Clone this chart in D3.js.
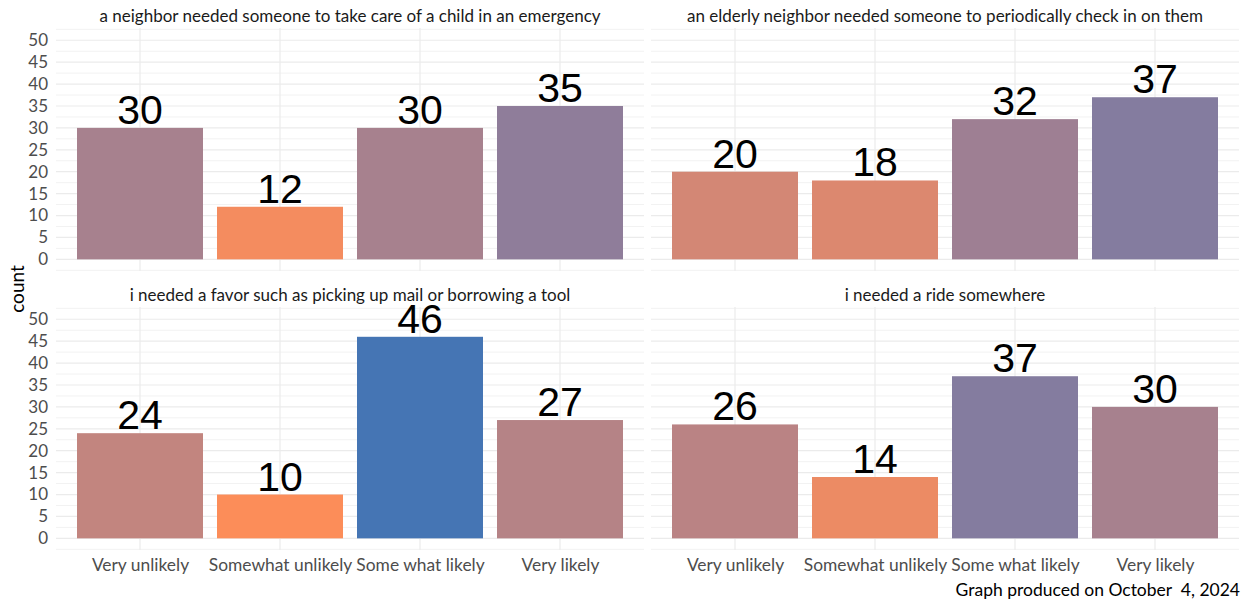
<!DOCTYPE html>
<html>
<head>
<meta charset="utf-8">
<script src="https://cdn.jsdelivr.net/npm/d3@7"></script>
<style>
  html, body { margin: 0; padding: 0; background: #fff; }
  svg { display: block; }
</style>
</head>
<body>
<svg id="chart" width="1244" height="603"></svg>
<script>
const categories = ["Very unlikely", "Somewhat unlikely", "Some what likely", "Very likely"];
const panelTitles = [
  "a neighbor needed someone to take care of a child in an emergency",
  "an elderly neighbor needed someone to periodically check in on them",
  "i needed a favor such as picking up mail or borrowing a tool",
  "i needed a ride somewhere"
];
const childCare = [30, 12, 30, 35];
const elderlyCheck = [20, 18, 32, 37];
const favor = [24, 10, 46, 27];
const ride = [26, 14, 37, 30];
const seriesValues = [childCare, elderlyCheck, favor, ride];
const yTicks = [0, 5, 10, 15, 20, 25, 30, 35, 40, 45, 50];
const yMinor = [-2.5, 2.5, 7.5, 12.5, 17.5, 22.5, 27.5, 32.5, 37.5, 42.5, 47.5, 52.5];
const caption = "Graph produced on October\u00a0\u00a04, 2024";
const yLabel = "count";

const svg = d3.select("#chart");
const FONT = "Lato, 'Open Sans', sans-serif";

const panelW = 588, panelH = 243;
const panelX = [56, 651];
const panelY = [28, 307];

const allVals = seriesValues.flat();
const color = d3.scaleLinear()
  .domain([d3.min(allVals), d3.max(allVals)])
  .range(["#fc8d59", "#4575b4"])
  .interpolate(d3.interpolateLab);

const step = panelW / 4.2;
const xc = c => step * (0.6 + categories.indexOf(c));
const y = d3.scaleLinear().domain([-2.66, 52.8]).range([panelH, 0]);

seriesValues.forEach((vals, i) => {
  const col = i % 2, row = Math.floor(i / 2);
  const g = svg.append("g").attr("transform", `translate(${panelX[col]},${panelY[row]})`);

  g.selectAll("line.minor").data(yMinor).join("line")
    .attr("x1", 0).attr("x2", panelW)
    .attr("y1", d => y(d)).attr("y2", d => y(d))
    .attr("stroke", "#f2f2f2").attr("stroke-width", 1);
  g.selectAll("line.major").data(yTicks).join("line")
    .attr("x1", 0).attr("x2", panelW)
    .attr("y1", d => y(d)).attr("y2", d => y(d))
    .attr("stroke", "#ebebeb").attr("stroke-width", 1.2);
  g.selectAll("line.vgrid").data(categories).join("line")
    .attr("x1", d => xc(d)).attr("x2", d => xc(d))
    .attr("y1", 0).attr("y2", panelH)
    .attr("stroke", "#ebebeb").attr("stroke-width", 1.2);

  const bw = step * 0.9;
  g.selectAll("rect.bar").data(vals).join("rect")
    .attr("x", (d, j) => xc(categories[j]) - bw / 2)
    .attr("width", bw)
    .attr("y", d => y(d))
    .attr("height", d => y(0) - y(d))
    .attr("fill", d => color(d));

  g.selectAll("text.val").data(vals).join("text")
    .attr("x", (d, j) => xc(categories[j]))
    .attr("y", d => y(d) - 4)
    .attr("text-anchor", "middle")
    .attr("font-family", "'Liberation Sans', Arial, sans-serif")
    .attr("font-size", 41)
    .attr("fill", "#000")
    .text(d => d);

  svg.append("text")
    .attr("x", panelX[col] + panelW / 2)
    .attr("y", panelY[row] - 6)
    .attr("text-anchor", "middle")
    .attr("font-family", FONT)
    .attr("font-size", 17)
    .attr("fill", "#1a1a1a")
    .text(panelTitles[i]);

  if (col === 0) {
    const ax = d3.axisLeft(y).tickValues(yTicks).tickSize(0).tickPadding(8);
    const ag = g.append("g").call(ax);
    ag.select(".domain").remove();
    ag.selectAll("text").attr("font-family", FONT).attr("font-size", 17).attr("fill", "#4d4d4d");
  }
  if (row === 1) {
    const ax = d3.axisBottom(d3.scalePoint().domain(categories).range([xc(categories[0]), xc(categories[3])]))
      .tickSize(0).tickPadding(9);
    const ag = g.append("g").attr("transform", `translate(0,${panelH})`).call(ax);
    ag.select(".domain").remove();
    ag.selectAll("text").attr("font-family", FONT).attr("font-size", 17.4).attr("fill", "#4d4d4d");
  }
});

svg.append("text")
  .attr("transform", `translate(24,${(28 + 550) / 2}) rotate(-90)`)
  .attr("text-anchor", "middle")
  .attr("font-family", FONT)
  .attr("font-size", 19)
  .attr("fill", "#000")
  .text(yLabel);

svg.append("text")
  .attr("x", 1240).attr("y", 596)
  .attr("text-anchor", "end")
  .attr("font-family", FONT)
  .attr("font-size", 17.5)
  .attr("fill", "#000")
  .text(caption);
</script>
</body>
</html>
